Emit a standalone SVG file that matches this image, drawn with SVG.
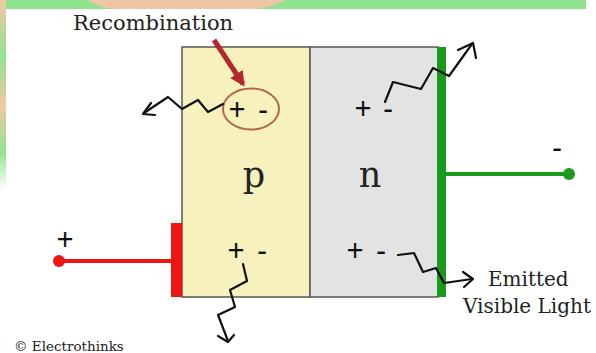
<svg xmlns="http://www.w3.org/2000/svg" width="596" height="353" viewBox="0 0 596 353">
<style>
.serif{font-family:"DejaVu Serif","Liberation Serif",serif;fill:#222}
.sign{font-family:"Noto Sans","DejaVu Sans",sans-serif;font-size:30px;fill:#111;text-anchor:middle}
.wave{fill:none;stroke:#111;stroke-width:2.2;stroke-linejoin:round;stroke-linecap:round}
</style>
<defs>
<linearGradient id="lg" x1="0" y1="0" x2="0" y2="1">
<stop offset="0" stop-color="#f2c9a4"/>
<stop offset="0.3" stop-color="#8fe38f"/>
<stop offset="0.55" stop-color="#f2c9a4"/>
<stop offset="0.8" stop-color="#8fe38f"/>
<stop offset="1" stop-color="#ffffff"/>
</linearGradient>
<marker id="redHead" viewBox="0 0 10 10" refX="8" refY="5" markerWidth="3" markerHeight="3" orient="auto">
<path d="M0,0 L10,5 L0,10 z" fill="#b3282d"/>
</marker>
</defs>
<rect width="596" height="353" fill="#ffffff"/>
<g id="background">
<rect x="0" y="0" width="586" height="9" fill="#8fe38f"/>
<path d="M88,0 L285,0 Q270,9 250,9 L120,9 Q100,9 88,0 z" fill="#f0c7a6"/>
<rect x="0" y="0" width="6" height="190" fill="url(#lg)"/>
</g>
<g id="p-region">
<rect x="182" y="47" width="128" height="250" fill="#f6f1bd" stroke="#555" stroke-width="1.5"/>
<text class="serif" x="254" y="187" font-size="35" text-anchor="middle">p</text>
</g>
<g id="n-region">
<rect x="310" y="47" width="128" height="250" fill="#e3e3e3" stroke="#555" stroke-width="1.5"/>
<text class="serif" x="370" y="187" font-size="35" text-anchor="middle">n</text>
</g>
<g id="anode">
<line x1="59" y1="261" x2="176" y2="261" stroke="#ee1515" stroke-width="4"/>
<circle cx="59" cy="261" r="6" fill="#ee1515"/>
<rect x="171" y="223" width="11" height="74" fill="#ee1515"/>
<text class="sign" x="65" y="250">+</text>
</g>
<g id="cathode">
<line x1="442" y1="174" x2="569" y2="174" stroke="#1a9a1a" stroke-width="4"/>
<circle cx="569" cy="174" r="6" fill="#1a9a1a"/>
<rect x="437" y="47" width="9" height="250" fill="#1a9a1a"/>
<text class="sign" x="557" y="158">-</text>
</g>
<g id="recombination">
<ellipse cx="251" cy="109" rx="28" ry="20.5" fill="none" stroke="#b5654a" stroke-width="2"/>
<text class="sign" x="237" y="120">+</text>
<text class="sign" x="263" y="120">-</text>
<text class="serif" x="73" y="30" font-size="21">Recombination</text>
</g>
<g id="pairs">
<text class="sign" x="363" y="119">+</text>
<text class="sign" x="388" y="119">-</text>
<text class="sign" x="236" y="261">+</text>
<text class="sign" x="262" y="261">-</text>
<text class="sign" x="355" y="261">+</text>
<text class="sign" x="381" y="261">-</text>
</g>
<g id="label-light">
<text class="serif" x="488" y="286" font-size="20">Emitted</text>
<text class="serif" x="463" y="313" font-size="20">Visible Light</text>
</g>
<g id="copyright">
<text class="serif" x="14" y="351" font-size="13.5">© Electrothinks</text>
</g>
<g id="connectors">
<line x1="214" y1="40" x2="243" y2="84" stroke="#b3282d" stroke-width="5" marker-end="url(#redHead)"/>
<polyline class="wave" points="223,104 208,112 198,100 182,109 168,97 144,113"/>
<polyline class="wave" points="151,103 143,114 155,115"/>
<polyline class="wave" points="385,102 393,82 421,89 433,68 449,76 472,44"/>
<polyline class="wave" points="458,50 473,43 476,58"/>
<polyline class="wave" points="243,264 247,281 230,290 235,307 218,315 228,341"/>
<polyline class="wave" points="218,336 228,342 234,335"/>
<polyline class="wave" points="398,255 414,253 423,272 436,268 444,283 472,279"/>
<polyline class="wave" points="463,272 473,279 464,287"/>
</g>
</svg>
